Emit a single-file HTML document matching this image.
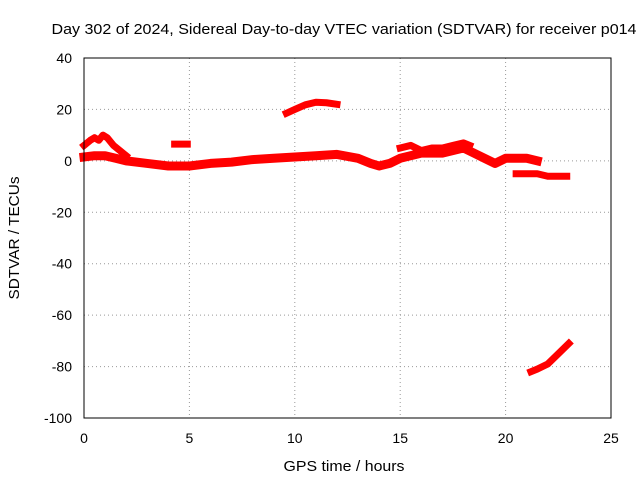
<!DOCTYPE html>
<html><head><meta charset="utf-8"><style>
body{margin:0;background:#fff;}
svg{display:block;font-family:"Liberation Sans",sans-serif;font-size:14px;}
</style></head><body>
<svg id="chart" width="640" height="480">
<rect width="640" height="480" fill="#fff"/>
<text x="344" y="34" text-anchor="middle" textLength="585" lengthAdjust="spacingAndGlyphs" style="font-size:15px">Day 302 of 2024, Sidereal Day-to-day VTEC variation (SDTVAR) for receiver p014</text>
<text x="344" y="471" text-anchor="middle" textLength="121" lengthAdjust="spacingAndGlyphs" style="font-size:15px">GPS time / hours</text>
<text transform="translate(19,238) rotate(-90)" text-anchor="middle" textLength="123" lengthAdjust="spacingAndGlyphs" style="font-size:15px">SDTVAR / TECUs</text>
<g id="grid"></g><g id="marks"></g>
<rect x="84" y="58" width="527" height="360" fill="none" stroke="#000"/>
</svg>
<script>
const xTicks=[0,5,10,15,20,25];
const yTicks=[40,20,0,-20,-40,-60,-80,-100];
const t1=[0,0.5,1,1.5,2,3,4,5,6,7,8,9,10,11,12,13,13.6,14,14.5,15,16,17,18,18.5,19,19.5,20,20.5,21,21.5];
const v1=[1.5,2,2,1,0,-1,-2,-2,-1,-0.5,0.5,1,1.5,2,2.5,1,-1,-2,-1,1,3,3,5,3,1,-1,1,1,1,0];
const t2=[0,0.3,0.5,0.7,0.9,1.1,1.4,1.7,2];
const v2=[6,8,9,8,10,9,6,4,2];
const t3=[4.3,4.9];
const v3=[6.5,6.5];
const t4=[9.6,10,10.5,11,11.5,12];
const v4=[18.5,20,21.8,22.8,22.6,22];
const t5=[15,15.5,16,16.5,17,17.5,18,18.3];
const v5=[5,6,4,5,5,6,7,6];
const t6=[20.5,21,21.5,22,22.5,22.9];
const v6=[-5,-5,-5,-6,-6,-6];
const t7=[21.2,21.5,22,22.5,23];
const v7=[-82,-81,-79,-75,-71];
const series=[[t1,v1],[t2,v2],[t3,v3],[t4,v4],[t5,v5],[t6,v6],[t7,v7]];
const X=t=>84+t*527/25, Y=v=>58+(40-v)*360/140;
const NS="http://www.w3.org/2000/svg";
const g=document.getElementById('grid'), m=document.getElementById('marks');
function mk(tag,at,par){const e=document.createElementNS(NS,tag);for(const k in at)e.setAttribute(k,at[k]);par.appendChild(e);return e;}
xTicks.forEach(t=>{
 if(t>0&&t<25){const l=mk('line',{x1:X(t),x2:X(t),y1:58,y2:418,stroke:'#999','stroke-dasharray':'1,3'},g);
 
 }
 const s=mk('text',{x:X(t),y:443,'text-anchor':'middle'},g);s.textContent=t;
 
 
});
yTicks.forEach(v=>{
 if(v>-100&&v<40){const l=mk('line',{x1:84,x2:611,y1:Y(v),y2:Y(v),stroke:'#999','stroke-dasharray':'1,3'},g);
 
 }
 const s=mk('text',{x:72,y:Y(v)+5,'text-anchor':'end'},g);s.textContent=v;
 
 
});
series.forEach(([ts,vs],i)=>{
 const p=mk('polyline',{points:ts.map((t,j)=>X(t)+','+Y(vs[j])).join(' '),fill:'none',stroke:'#f00','stroke-width':(i===0?9:7),'stroke-linejoin':'round','stroke-linecap':'square'},m);
 
 
});
</script>
</body></html>
